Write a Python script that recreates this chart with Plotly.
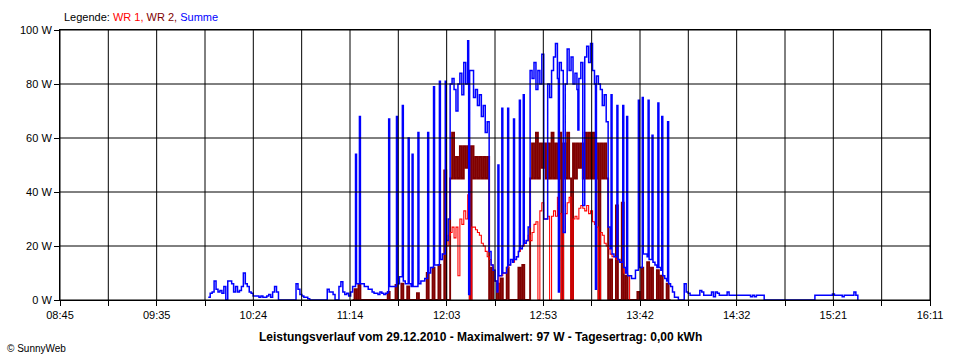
import pandas as pd
import plotly.graph_objects as go

# ---------------- data ----------------
# Summe (blue) base readings, one per minute starting 10:01
summe_start = "2010-12-29 10:01"
summe = [
    1, 2.5, 3, 7, 4, 3, 3.5, 2.5, 5, 0,
    7, 7, 6, 3, 5, 3, 3.5, 5, 10, 6,
    5, 3, 2.5, 1.5, 1.5, 1.5, 1, 1.5, 1, 1,
    1.5, 2, 1, 3, 5, 3, 0, 0, 0, 0,
    0, 0, 0, 0, 0, 6, 4, 2, 1.5, 1,
    1, 0.5, 0, 0, 0, 0, 0, 0, 0, 0,
    0, 4, 3, 3, 2, 0, 0, 5, 6.8, 3,
    2, 2.5, 1.5, 3, 5, 5, 6, 6, 6, 6,
    5, 5, 4, 4, 3, 2.5, 2.5, 2, 3, 2.5,
    2, 2.5, 3, 5, 5, 5, 5, 6, 8.6, 8.6,
    7, 6, 6, 6, 5, 5, 5, 5, 6, 7,
    7, 8, 8, 10, 12, 12, 13, 13, 13, 15,
    17, 17, 22, 30, 80, 82, 78, 70, 80, 84,
    76, 88, 80, 96, 85, 85, 75, 78, 72, 76,
    68, 72, 62, 66, 18, 13, 11, 7, 3, 9,
    9, 10, 10, 12, 13, 15, 14, 15, 16, 18,
    19, 20, 21, 22, 27, 85, 82, 88, 78, 85,
    80, 91, 30, 30, 80, 75, 85, 90, 95, 82,
    88, 85, 25, 80, 93, 85, 90, 80, 84, 78,
    82, 88, 35, 90, 94, 88, 95, 85, 80, 83,
    80, 78, 72, 76, 66, 27, 19, 17, 16, 16,
    15, 14, 14, 12, 10, 9, 9, 8, 8, 11,
    11, 12, 12, 17, 17, 16, 15, 15, 14, 13,
    12, 12, 11, 9, 8, 7, 6, 5, 3, 1,
    1, 0, 0, 0, 6, 3, 2.5, 1.8, 1.8, 1.8,
    1.8, 1.8, 3.5, 3, 1.8, 1.8, 1.8, 1.8, 3, 1.2,
    3, 2.5, 1.8, 1.8, 1.8, 1.8, 3, 1.8, 1.8, 1.8,
    1.8, 1.8, 1.8, 1.8, 1.8, 1.8, 1.8, 1.8, 1.2, 1.8,
    1.2, 1.8, 1.8, 1.8, 1.8, 0, 0, 0, 0, 0,
    0, 0, 0, 0, 0, 0, 0, 0, 0, 0,
    0, 0, 0, 0, 0, 0, 0, 0, 0, 0,
    0, 1.8, 1.8, 1.8, 1.8, 1.8, 1.8, 1.8, 1.8, 1.8,
    2.2, 1.8, 1.8, 1.8, 1.8, 1.2, 1.8, 1.8, 1.8, 1.8,
    1.8, 3, 1.8, 0,
]

# Summe short half-minute readings (spikes)
spike_times = [
    "11:16:30", "11:18:30", "11:33:30", "11:37:30", "11:40:30", "11:43:30",
    "11:45:30", "11:48:30", "11:53:30", "11:56:30", "11:59:30", "12:02:30",
    "12:14:30", "12:29:30", "12:31:30", "12:34:30", "12:37:30", "12:40:30",
    "12:42:30", "13:00:30", "13:10:30", "13:19:30", "13:27:30", "13:30:30",
    "13:33:30", "13:35:30", "13:41:30", "13:43:30", "13:46:30", "13:48:30",
    "13:51:30", "13:53:30", "13:56:30",
]
spike_values = [
    54, 68, 67, 68, 72, 60,
    54, 62, 62, 79, 81, 81,
    2, 50, 71, 71, 67, 74,
    76, 3, 63, 4, 76, 72,
    72, 68, 74, 75, 74, 61,
    73, 68, 66,
]

# WR 1 (red), one per minute starting 12:01
wr1_start = "2010-12-29 12:01"
wr1 = [
    17, 17, 20, 24, 25, 27, 23, 27, 9, 30,
    28, 33, 30, 39, 0, 27, 27, 26, 25, 24,
    21, 20, 18, 16, 15, 13, 11, 7, 3, 9,
    9, 10, 10, 12, 13, 15, 14, 15, 16, 18,
    19, 20, 21, 22, 24, 22, 25, 28, 29, 0,
    33, 36, 30, 30, 31, 0, 31, 33, 31, 38,
    32, 0, 25, 32, 36, 38, 0, 30, 31, 30,
    34, 35, 34, 33, 35, 32, 33, 29, 28, 27,
    0, 25, 24, 21, 20, 19, 17, 16, 16, 15,
    15, 14, 14, 10, 10, 9, 0,
]

# WR 2 (dark red), one per minute starting 11:15
wr2_start = "2010-12-29 11:15"
wr2 = [
    0, 4, 0, 5.6, 0, 0, 0, 0, 0, 0,
    0, 0, 0, 0, 0, 0, 0, 0, 3, 0,
    0, 0, 5.6, 0, 0, 6, 0, 0, 5, 0,
    0, 0, 0, 2.5, 0, 0, 0, 0, 10, 0,
    0, 12, 0, 0, 13, 0, 0, 48, 0, 0,
    45, 62, 45, 53, 45, 57, 45, 57, 49, 57,
    0, 57, 45, 53, 45, 53, 45, 53, 45, 53,
    0, 12, 0, 0, 6, 0, 8, 0, 0, 12,
    0, 0, 0, 0, 0, 12, 0, 13, 0, 0,
    0, 45, 58, 45, 62, 45, 58, 49, 58, 45,
    58, 45, 62, 45, 58, 45, 62, 0, 58, 45,
    62, 45, 0, 58, 45, 58, 49, 58, 45, 62,
    45, 62, 45, 62, 45, 58, 0, 58, 45, 58,
    45, 0, 15, 0, 0, 35, 0, 0, 36, 0,
    9, 0, 0, 0, 0, 0, 3, 0, 12, 0,
    0, 14, 0, 12, 0, 0, 11, 0, 9, 0,
    0, 6, 0, 0,
]

day = "2010-12-29"
axis_start = "08:45"
axis_end = "16:11"
x_labels = ["08:45", "09:35", "10:24", "11:14", "12:03",
            "12:53", "13:42", "14:32", "15:21", "16:11"]
y_values = [0, 20, 40, 60, 80, 100]
y_labels = ["0 W", "20 W", "40 W", "60 W", "80 W", "100 W"]

# ---------------- figure ----------------
t_summe = pd.date_range(summe_start, periods=len(summe), freq="1min")
blue = pd.concat([
    pd.Series(summe, index=t_summe),
    pd.Series(spike_values, index=pd.to_datetime([f"{day} {s}" for s in spike_times])),
]).sort_index()
t_wr1 = pd.date_range(wr1_start, periods=len(wr1), freq="1min")
t_wr2 = pd.date_range(wr2_start, periods=len(wr2), freq="1min")

a0 = pd.Timestamp(f"{day} {axis_start}")
a1 = pd.Timestamp(f"{day} {axis_end}")
n_grid = 2 * (len(x_labels) - 1)
grid_ticks = [a0 + k * (a1 - a0) / n_grid for k in range(n_grid + 1)]
grid_text = [x_labels[k // 2] if k % 2 == 0 else "" for k in range(n_grid + 1)]

FONT = "Liberation Sans, Arial, sans-serif"

fig = go.Figure()
fig.add_trace(go.Scatter(x=t_wr2, y=wr2, mode="lines", name="WR 2",
                         line=dict(color="#800000", width=1.9, shape="hv")))
fig.add_trace(go.Scatter(x=t_wr1, y=wr1, mode="lines", name="WR 1",
                         line=dict(color="#FF0000", width=1.1, shape="hv")))
fig.add_trace(go.Scatter(x=blue.index, y=blue.values, mode="lines", name="Summe",
                         line=dict(color="#0000FF", width=1.5, shape="hv")))

shapes = []
for t in grid_ticks:
    shapes.append(dict(type="line", xref="x", yref="paper", x0=t, x1=t, y0=0, y1=1,
                       line=dict(color="black", width=1), layer="above"))
for v in y_values:
    shapes.append(dict(type="line", xref="paper", yref="y", x0=0, x1=1, y0=v, y1=v,
                       line=dict(color="black", width=1), layer="above"))

fig.update_layout(
    width=960, height=360,
    margin=dict(l=60, r=30, t=30, b=60),
    paper_bgcolor="white", plot_bgcolor="white",
    showlegend=False,
    font=dict(family=FONT, size=11, color="black"),
    shapes=shapes,
    xaxis=dict(type="date", range=[a0, a1], tickmode="array",
               tickvals=grid_ticks, ticktext=grid_text,
               ticks="outside", ticklen=5, tickcolor="black", tickwidth=1,
               showgrid=False, zeroline=False, showline=True, mirror=True,
               linecolor="black", linewidth=1,
               tickfont=dict(family=FONT, size=11, color="black")),
    yaxis=dict(range=[0, 100], tickmode="array", tickvals=y_values, ticktext=y_labels,
               ticks="outside", ticklen=5, tickcolor="black", tickwidth=1,
               showgrid=False, zeroline=False, showline=True, mirror=True,
               linecolor="black", linewidth=1,
               tickfont=dict(family=FONT, size=11, color="black")),
    annotations=[
        dict(xref="paper", yref="paper", x=0.002, y=1.048, xanchor="left", yanchor="middle",
             showarrow=False, font=dict(family=FONT, size=11, color="black"),
             text="Legende: <span style='color:#FF0000'>WR 1,</span> "
                  "<span style='color:#800000'>WR 2,</span> "
                  "<span style='color:#0000FF'>Summe</span>"),
        dict(xref="paper", yref="paper", x=0.4828, y=-0.137, xanchor="center", yanchor="middle",
             showarrow=False, font=dict(family=FONT, size=12, color="black"),
             text="<b>Leistungsverlauf vom 29.12.2010 - Maximalwert: 97 W - Tagesertrag: 0,00 kWh</b>"),
        dict(xref="paper", yref="paper", x=-0.0632, y=-0.178, xanchor="left", yanchor="middle",
             showarrow=False, font=dict(family=FONT, size=10, color="black"),
             text="© SunnyWeb"),
    ],
)

fig.write_html("out.html", config={"displayModeBar": False},
               post_script="document.body.style.margin='0';")
